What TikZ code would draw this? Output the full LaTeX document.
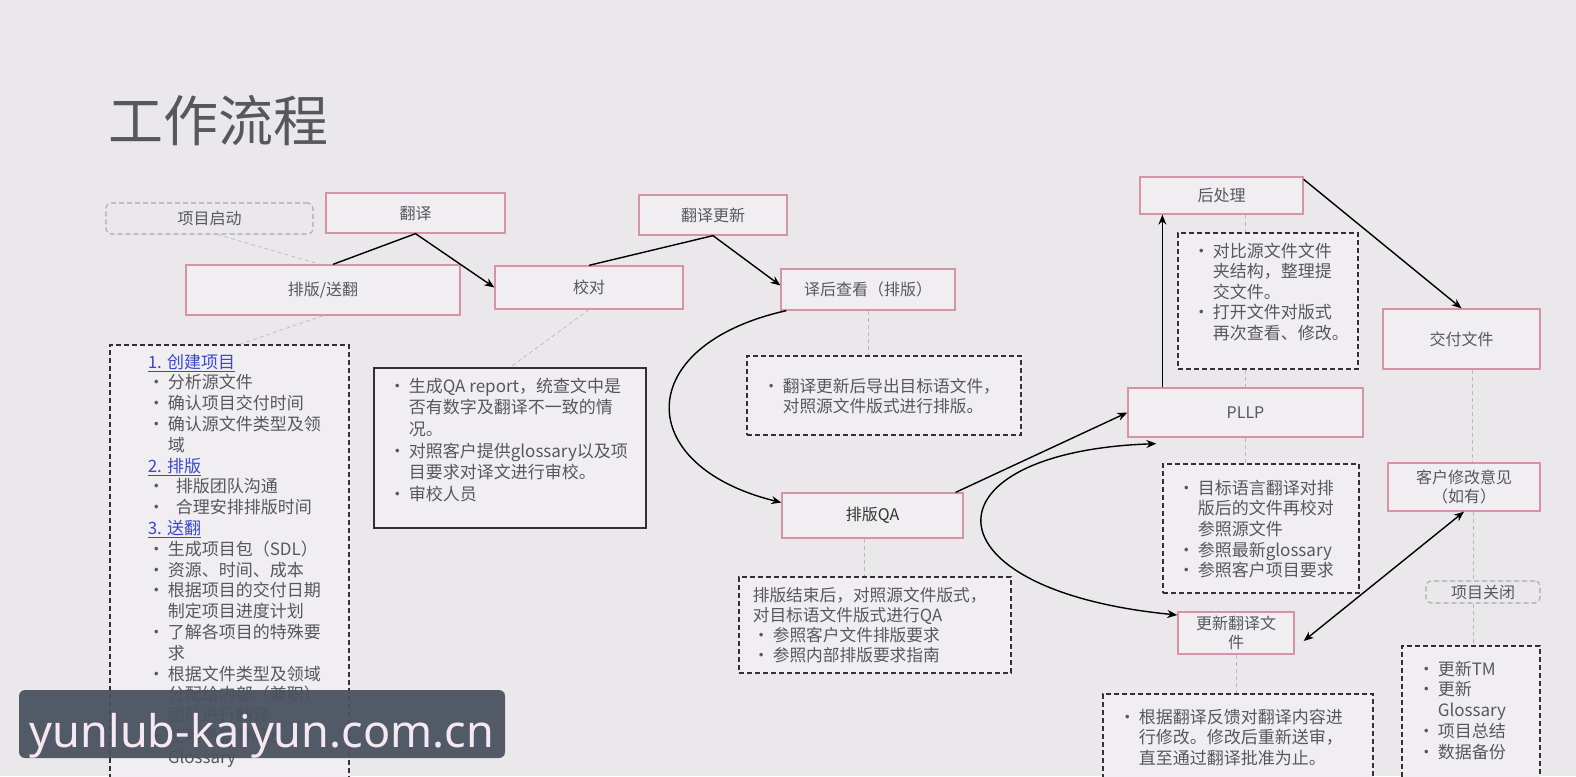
\documentclass[tikz,border=0pt]{standalone}
\usepackage{fontspec}
\setmainfont{Noto Sans CJK SC}
\newfontfamily\wmfont{Noto Sans}
\usetikzlibrary{arrows.meta}
\definecolor{bg}{RGB}{235,232,235}
\definecolor{boxfill}{RGB}{240,238,241}
\definecolor{boxpink}{RGB}{214,146,168}
\definecolor{notedark}{RGB}{55,45,55}
\definecolor{txt}{RGB}{88,88,92}
\definecolor{lnk}{RGB}{60,72,205}
\definecolor{wmbg}{RGB}{74,82,96}
\newcommand\bu{\makebox[20pt][l]{\textbullet}}
\newcommand\ind{\hspace*{20pt}}
\newcommand\hd[1]{{\color{lnk}\underline{#1}}}

\begin{document}
\begin{tikzpicture}[x=1pt, y=-1pt, thick,
    main/.style={draw=boxpink, fill=boxfill, line width=1.3pt, text=txt, align=center,
      font=\fontsize{16}{19}\selectfont, inner sep=0pt},
    start/.style={draw=gray!65, dash pattern=on 5pt off 3pt, rounded corners=5pt, line width=1.1pt,
      text=txt, font=\fontsize{16}{19}\selectfont, inner sep=0pt},
    note/.style={preaction={draw=boxpink, line width=2.8pt}, fill=boxfill, draw=notedark,
      dash pattern=on 5pt off 3pt, line width=1.2pt, inner sep=0pt},
    notetext/.style={anchor=north west, inner sep=0pt, align=left, text=txt,
      font=\fontsize{17}{20.8}\selectfont},
    link/.style={draw=gray!55, dash pattern=on 4pt off 3pt, line width=0.7pt},
    flow/.style={-{Stealth[length=10pt,width=8pt]}, line width=1.4pt},
    both/.style={{Stealth[length=10pt,width=8pt]}-{Stealth[length=10pt,width=8pt]}, line width=1.4pt}]

\useasboundingbox[fill=bg] (0,0) rectangle (1576,776);

\node[anchor=base west, inner sep=0pt, text=txt, font=\fontsize{55}{60}\selectfont] (title) at (108,141) {工作流程};

\node[start, minimum width=207pt, minimum height=31pt] (open) at (209.5,218.5) {项目启动};
\node[main, minimum width=179pt, minimum height=40pt] (fy) at (415.5,213) {翻译};
\node[main, minimum width=274pt, minimum height=50pt] (pb) at (323,290) {排版/送翻};
\node[main, minimum width=188pt, minimum height=43pt] (jd) at (589,287.5) {校对};
\node[main, minimum width=148pt, minimum height=40pt] (gx) at (713,215) {翻译更新};
\node[main, minimum width=174pt, minimum height=41pt] (yh) at (868,289.5) {译后查看（排版）};
\node[main, minimum width=181pt, minimum height=45pt, text=black!80] (qa) at (872.5,515.5) {排版QA};
\node[main, minimum width=235pt, minimum height=49pt] (pllp) at (1245.5,412.5) {PLLP};
\node[main, minimum width=163pt, minimum height=37pt] (hcl) at (1221.5,195.5) {后处理};
\node[main, minimum width=157pt, minimum height=60pt] (jf) at (1461.5,339) {交付文件};
\node[main, minimum width=152pt, minimum height=48pt] (kh) at (1464,487) {客户修改意见\\（如有）};
\node[start, minimum width=114pt, minimum height=22pt] (close) at (1483,592) {项目关闭};
\node[main, minimum width=116pt, minimum height=42pt] (upd) at (1236,633) {更新翻译文\\件};

\node[note, minimum width=239pt, minimum height=445pt] (n1) at (229.5,567.5) {};
\node[note, solid, minimum width=272pt, minimum height=160pt] (n2) at (510,448) {};
\node[note, minimum width=274pt, minimum height=79pt] (n3) at (884,395.5) {};
\node[note, minimum width=272pt, minimum height=96pt] (n4) at (875,625) {};
\node[note, minimum width=180pt, minimum height=136pt] (n5) at (1268,301) {};
\node[note, minimum width=196pt, minimum height=129pt] (n6) at (1261,528.5) {};
\node[note, minimum width=270pt, minimum height=100pt] (n7) at (1238,744) {};
\node[note, minimum width=138pt, minimum height=150pt] (n8) at (1471,721) {};

\node[notetext] (t1) at (n1.north west) [xshift=38pt, yshift=-9pt] {\hd{1. 创建项目}\\
  \bu 分析源文件\\
  \bu 确认项目交付时间\\
  \bu 确认源文件类型及领\\
  \ind 域\\
  \hd{2. 排版}\\
  \bu\hspace{8pt}排版团队沟通\\
  \bu\hspace{8pt}合理安排排版时间\\
  \hd{3. 送翻}\\
  \bu 生成项目包（SDL）\\
  \bu 资源、时间、成本\\
  \bu 根据项目的交付日期\\
  \ind 制定项目进度计划\\
  \bu 了解各项目的特殊要\\
  \ind 求\\
  \bu 根据文件类型及领域\\
  \ind 分配给内部（兼职）\\
  \ind 团队进行翻译\\
  \bu 使用最新TM及\\
  \ind Glossary};
\node[notetext, font=\fontsize{17}{21.6}\selectfont] (t2) at (n2.north west) [xshift=15pt, yshift=-10pt] {\bu 生成QA report，统查文中是\\
  \ind 否有数字及翻译不一致的情\\
  \ind 况。\\
  \bu 对照客户提供glossary以及项\\
  \ind 目要求对译文进行审校。\\
  \bu 审校人员};
\node[notetext, font=\fontsize{16.7}{19.5}\selectfont] (t3) at (n3.north west) [xshift=16pt, yshift=-23pt] {\bu 翻译更新后导出目标语文件，\\
  \ind 对照源文件版式进行排版。};
\node[notetext, font=\fontsize{16.7}{20}\selectfont] (t4) at (n4.north west) [xshift=14pt, yshift=-11pt] {排版结束后，对照源文件版式，\\
  对目标语文件版式进行QA\\
  \bu 参照客户文件排版要求\\
  \bu 参照内部排版要求指南};
\node[notetext, font=\fontsize{17}{20.5}\selectfont] (t5) at (n5.north west) [xshift=15pt, yshift=-10pt] {\bu 对比源文件文件\\
  \ind 夹结构，整理提\\
  \ind 交文件。\\
  \bu 打开文件对版式\\
  \ind 再次查看、修改。};
\node[notetext, font=\fontsize{17}{20.7}\selectfont] (t6) at (n6.north west) [xshift=15pt, yshift=-16pt] {\bu 目标语言翻译对排\\
  \ind 版后的文件再校对\\
  \ind 参照源文件\\
  \bu 参照最新glossary\\
  \bu 参照客户项目要求};
\node[notetext, font=\fontsize{17}{20.7}\selectfont] (t7) at (n7.north west) [xshift=16pt, yshift=-15pt] {\bu 根据翻译反馈对翻译内容进\\
  \ind 行修改。修改后重新送审，\\
  \ind 直至通过翻译批准为止。};
\node[notetext, font=\fontsize{17}{20.8}\selectfont] (t8) at (n8.north west) [xshift=16pt, yshift=-15pt] {\bu 更新TM\\
  \bu 更新\\
  \ind Glossary\\
  \bu 项目总结\\
  \bu 数据备份};

\draw[link] ([xshift=8pt]open.south) -- ([xshift=-3pt]pb.north);
\draw[link] (pb.south) -- ([xshift=10pt]n1.north);
\draw[link] (jd.south) -- (n2.north);
\draw[link] (yh.south) -- (yh.south |- n3.north);
\draw[link] ([xshift=-8pt]qa.south) -- ([xshift=-8pt]qa.south |- n4.north);
\draw[link] (pllp.north |- hcl.south) -- (pllp.north |- n5.north);
\draw[link] (pllp.north |- n5.south) -- (pllp.north);
\draw[link] (pllp.south) -- (pllp.south |- n6.north);
\draw[link] ([xshift=11pt]jf.south) -- ([xshift=11pt]jf.south |- kh.north);
\draw[link] ([xshift=9pt]kh.south) -- ([xshift=9pt]kh.south |- close.north);
\draw[link] ([xshift=-10pt]close.south) -- ([xshift=-10pt]close.south |- n8.north);
\draw[link] (upd.south) -- (upd.south |- n7.north);

\draw[flow] ([xshift=10pt]pb.north) -- (fy.south) -- (jd.west);
\draw[flow] (jd.north) -- (gx.south) -- ([yshift=4pt]yh.west);
\draw[flow] ([xshift=6pt]yh.south west) .. controls (632,345) and (632,466) .. ([yshift=13pt]qa.west);
\draw[flow] ([xshift=-8pt]qa.north east) -- (pllp.west);
\draw[both] ([xshift=29pt,yshift=-6pt]pllp.south west) .. controls (921,452) and (921,590) .. ([yshift=18pt]upd.west);
\draw[flow] ([xshift=35pt]pllp.north west) -- ([xshift=35pt]pllp.north west |- hcl.south);
\draw[flow] ([yshift=-3pt]hcl.north east) -- (jf.north);
\draw[both] ([xshift=9pt,yshift=-8pt]upd.east) -- (kh.south);

\node[fill=wmbg, fill opacity=0.95, text opacity=1, rounded corners=6pt, minimum width=486pt, minimum height=68pt, inner sep=0pt] (wm) at (262,724) {};
\node[anchor=base, inner sep=0pt, text={rgb,255:red,246;green,232;blue,240}, font=\wmfont\fontsize{45}{50}\selectfont] (wmtext) at (262,747) {yunlub-kaiyun.com.cn};
\end{tikzpicture}
\end{document}
